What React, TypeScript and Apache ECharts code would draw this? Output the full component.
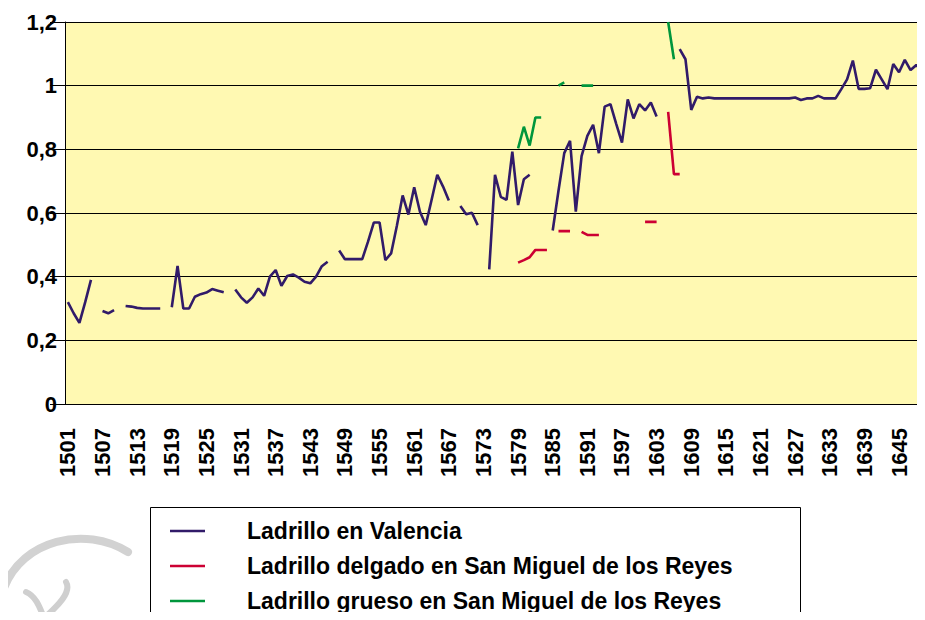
import React, { useEffect, useRef } from "react";
import * as echarts from "echarts";

const FIRST_YEAR = 1501;
const LAST_YEAR = 1649;
const years: string[] = [];
for (let y = FIRST_YEAR; y <= LAST_YEAR; y++) years.push(String(y));

const yTicks = [0, 0.2, 0.4, 0.6, 0.8, 1, 1.2];

const seriesNames = [
  "Ladrillo en Valencia",
  "Ladrillo delgado en San Miguel de los Reyes",
  "Ladrillo grueso en San Miguel de los Reyes",
];

const N = null;

// Ladrillo en Valencia, 1501..1649
const valencia: (number | null)[] = [
  /*1501*/ 0.32, 0.285, 0.255, 0.32, 0.39, N, 0.292, 0.285, 0.295, N,
  /*1511*/ 0.308, 0.306, 0.302, 0.3, 0.3, 0.3, 0.3, N, 0.304, 0.434,
  /*1521*/ 0.3, 0.3, 0.337, 0.345, 0.35, 0.361, 0.356, 0.351, N, 0.36,
  /*1531*/ 0.335, 0.318, 0.335, 0.363, 0.34, 0.4, 0.421, 0.371, 0.402, 0.407,
  /*1541*/ 0.397, 0.384, 0.379, 0.4, 0.433, 0.447, N, 0.482, 0.455, 0.455,
  /*1551*/ 0.455, 0.455, 0.51, 0.57, 0.57, 0.452, 0.473, 0.56, 0.655, 0.595,
  /*1561*/ 0.681, 0.604, 0.562, 0.64, 0.72, 0.683, 0.639, N, 0.622, 0.596,
  /*1571*/ 0.601, 0.562, N, 0.423, 0.72, 0.651, 0.641, 0.793, 0.625, 0.706,
  /*1581*/ 0.72, N, N, N, 0.545, 0.67, 0.788, 0.827, 0.604, 0.779,
  /*1591*/ 0.842, 0.877, 0.788, 0.934, 0.942, 0.88, 0.821, 0.957, 0.897, 0.942,
  /*1601*/ 0.922, 0.947, 0.903, N, N, N, 1.115, 1.083, 0.924, 0.965,
  /*1611*/ 0.96, 0.963, 0.96, 0.96, 0.96, 0.96, 0.96, 0.96, 0.96, 0.96,
  /*1621*/ 0.96, 0.96, 0.96, 0.96, 0.96, 0.96, 0.963, 0.955, 0.96, 0.96,
  /*1631*/ 0.968, 0.96, 0.96, 0.96, 0.989, 1.02, 1.079, 0.99, 0.99, 0.992,
  /*1641*/ 1.05, 1.02, 0.989, 1.068, 1.042, 1.081, 1.049, 1.065, 1.044,
];

// Ladrillo delgado en San Miguel de los Reyes, starting 1579
const delgadoStart = 1579;
const delgado: (number | null)[] = [
  /*1579*/ 0.444, 0.452, 0.461, 0.484, 0.484, 0.484, N, 0.543, 0.543, 0.543,
  /*1589*/ N, 0.541, 0.531, 0.531, 0.531, N, N, N, N, N,
  /*1599*/ N, N, 0.572, 0.572, 0.572, N, 0.918, 0.722, 0.722,
];

// Ladrillo grueso en San Miguel de los Reyes, starting 1579
const gruesoStart = 1579;
const grueso: (number | null)[] = [
  /*1579*/ 0.803, 0.871, 0.812, 0.9, 0.9, N, N, 1.0, 1.01, N,
  /*1589*/ N, 1.0, 1.0, 1.0, N, N, N, N, N, N,
  /*1599*/ N, N, N, N, N, N, 1.2, 1.083,
];

function expand(start: number, vals: (number | null)[]) {
  return years.map((y) => {
    const i = Number(y) - start;
    return i >= 0 && i < vals.length ? vals[i] : null;
  });
}

const FONT = '"Liberation Sans", Arial, sans-serif';
const COLORS = ["#311b69", "#cc0033", "#00963c"];

export default function App() {
  const ref = useRef<HTMLDivElement>(null);
  useEffect(() => {
    if (!ref.current) return;
    const chart = echarts.init(ref.current, null, { renderer: "svg" });
    const datasets = [
      valencia,
      expand(delgadoStart, delgado),
      expand(gruesoStart, grueso),
    ];
    chart.setOption({
      animation: false,
      backgroundColor: "#ffffff",
      grid: {
        left: 65,
        top: 22,
        width: 860,
        height: 382,
        show: true,
        backgroundColor: "#fff9b2",
        borderWidth: 0,
      },
      xAxis: {
        type: "category",
        data: years,
        boundaryGap: true,
        axisLine: { lineStyle: { color: "#000", width: 1 } },
        axisTick: { interval: 0, length: 9, lineStyle: { color: "#000" } },
        axisLabel: {
          interval: 5,
          rotate: 90,
          margin: 24,
          color: "#000",
          fontFamily: FONT,
          fontWeight: "bold",
          fontSize: 22,
        },
        splitLine: { show: false },
      },
      yAxis: {
        type: "value",
        min: 0,
        max: 1.2,
        interval: 0.2,
        axisLine: { show: true, lineStyle: { color: "#000", width: 1 } },
        axisTick: { show: true, length: 15, lineStyle: { color: "#000" } },
        axisLabel: {
          margin: 8,
          color: "#000",
          fontFamily: FONT,
          fontWeight: "bold",
          fontSize: 22,
          formatter: (v: number) => {
            const t = yTicks.find((k) => Math.abs(k - v) < 1e-6);
            return String(t ?? v).replace(".", ",");
          },
        },
        splitLine: { show: true, lineStyle: { color: "#000", width: 1 } },
      },
      legend: {
        orient: "vertical",
        left: 170,
        top: 519,
        padding: 0,
        itemWidth: 35,
        itemHeight: 2.5,
        itemGap: 11,
        icon: "rect",
        data: seriesNames,
        textStyle: {
          fontFamily: FONT,
          fontWeight: "bold",
          fontSize: 23,
          color: "#000",
          lineHeight: 24,
          padding: [0, 0, 0, 37],
        },
      },
      graphic: [
        {
          type: "bezierCurve",
          shape: { x1: 4, y1: 588, x2: 128, y2: 552, cpx1: 22, cpy1: 540, cpx2: 85, cpy2: 525 },
          style: { stroke: "#d2d2d2", lineWidth: 8, fill: "none", lineCap: "round" },
          z: -1,
        },
        {
          type: "bezierCurve",
          shape: { x1: 26, y1: 592, x2: 44, y2: 618, cpx1: 36, cpy1: 596, cpx2: 40, cpy2: 608 },
          style: { stroke: "#cfcfcf", lineWidth: 6, fill: "none", lineCap: "round" },
          z: -1,
        },
        {
          type: "bezierCurve",
          shape: { x1: 44, y1: 618, x2: 66, y2: 582, cpx1: 58, cpy1: 606, cpx2: 72, cpy2: 592 },
          style: { stroke: "#cfcfcf", lineWidth: 6, fill: "none", lineCap: "round" },
          z: -1,
        },
        {
          type: "rect",
          shape: { x: 150.5, y: 507.5, width: 650, height: 140 },
          style: { fill: "#ffffff", stroke: "#000", lineWidth: 1 },
          z: 0,
        },
      ],
      series: seriesNames.map((name, i) => ({
        name,
        type: "line",
        data: datasets[i],
        color: COLORS[i],
        symbol: "none",
        showSymbol: false,
        connectNulls: false,
        clip: true,
        lineStyle: { color: COLORS[i], width: 2.6 },
        z: 3,
      })),
    });
    return () => chart.dispose();
  }, []);
  return <div ref={ref} style={{ width: 925, height: 620, margin: -8 }} />;
}
